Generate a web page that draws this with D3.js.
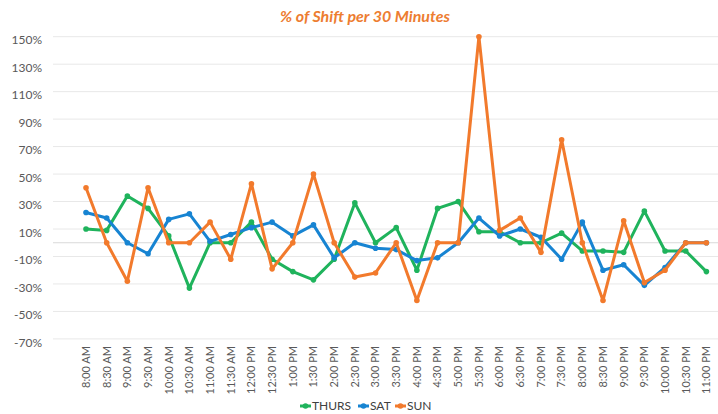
<!DOCTYPE html>
<html>
<head>
<meta charset="utf-8">
<script src="https://cdn.jsdelivr.net/npm/d3@7/dist/d3.min.js"></script>
<style>
  body { margin: 0; background: #fff; }
  svg { display: block; }
</style>
</head>
<body>
<svg id="chart" width="718" height="414"></svg>
<script>
const categories = ["8:00 AM","8:30 AM","9:00 AM","9:30 AM","10:00 AM","10:30 AM","11:00 AM","11:30 AM",
  "12:00 PM","12:30 PM","1:00 PM","1:30 PM","2:00 PM","2:30 PM","3:00 PM","3:30 PM","4:00 PM","4:30 PM",
  "5:00 PM","5:30 PM","6:00 PM","6:30 PM","7:00 PM","7:30 PM","8:00 PM","8:30 PM","9:00 PM","9:30 PM",
  "10:00 PM","10:30 PM","11:00 PM"];
const thurs = [10, 9, 34, 25, 5, -33, 0, 0, 15, -12, -21, -27, -12, 29, 0, 11, -20, 25, 30, 8, 8, 0, 0, 7, -6, -6, -7, 23, -6, -6, -21];
const sat   = [22, 18, 0, -8, 17, 21, 1, 6, 11, 15, 5, 13, -11, 0, -4, -5, -13, -11, 0, 18, 5, 10, 4, -12, 15, -20, -16, -31, -18, 0, 0];
const sun   = [40, 0, -28, 40, 0, 0, 15, -12, 43, -19, 0, 50, 0, -25, -22, 0, -42, 0, 0, 150, 9, 18, -7, 75, 0, -42, 16, -29, -20, 0, 0];
const yTicks = [150, 130, 110, 90, 70, 50, 30, 10, -10, -30, -50, -70];
const seriesNames = ["THURS", "SAT", "SUN"];
const seriesColors = ["#1fb35c", "#1784d2", "#f27a2c"];
const title = "% of Shift per 30 Minutes";

const svg = d3.select("#chart");
const gridLeft = 53, gridRight = 718;
const x = d3.scalePoint().domain(categories).range([86, 706.4]);
const y = d3.scaleLinear().domain([-70, 150]).range([338.9, 36.7]);

// gridlines
svg.append("g").selectAll("line").data(yTicks).join("line")
  .attr("x1", gridLeft).attr("x2", gridRight)
  .attr("y1", d => y(d)).attr("y2", d => y(d))
  .attr("stroke", "#e8e8e8").attr("stroke-width", 1);
// zero axis line
svg.append("line").attr("x1", gridLeft).attr("x2", gridRight)
  .attr("y1", y(0)).attr("y2", y(0)).attr("stroke", "#d9d9d9").attr("stroke-width", 1);

// y labels
svg.append("g").selectAll("text").data(yTicks).join("text")
  .attr("x", 42).attr("y", d => y(d) + 3.5).attr("dy", "0.35em")
  .attr("text-anchor", "end")
  .attr("font-family", "Lato, sans-serif").attr("font-size", 12).attr("fill", "#595959")
  .text(d => d + "%");

// x labels
svg.append("g").selectAll("text").data(categories).join("text")
  .attr("transform", d => `translate(${x(d)},346) rotate(-90)`)
  .attr("text-anchor", "end").attr("dy", "0.35em")
  .attr("font-family", "Lato, sans-serif").attr("font-size", 11).attr("fill", "#595959")
  .text(d => d);

// series
const allSeries = [thurs, sat, sun];
const line = d3.line().x((d, i) => x(categories[i])).y(d => y(d));
allSeries.forEach((vals, si) => {
  const g = svg.append("g");
  g.append("path").datum(vals).attr("d", line)
    .attr("fill", "none").attr("stroke", seriesColors[si]).attr("stroke-width", 3)
    .attr("stroke-linejoin", "round");
  g.selectAll("circle").data(vals).join("circle")
    .attr("cx", (d, i) => x(categories[i])).attr("cy", d => y(d)).attr("r", 2.8)
    .attr("fill", seriesColors[si]);
});

// title
svg.append("text").attr("x", 365).attr("y", 22).attr("text-anchor", "middle")
  .attr("font-family", "Lato, sans-serif").attr("font-weight", "bold").attr("font-style", "italic")
  .attr("font-size", 16).attr("fill", "#ed7d31").text(title);

// legend
const legendX = [300, 358, 395];
const lg = svg.append("g");
seriesNames.forEach((n, i) => {
  const lx = legendX[i];
  lg.append("line").attr("x1", lx).attr("x2", lx + 11).attr("y1", 406).attr("y2", 406)
    .attr("stroke", seriesColors[i]).attr("stroke-width", 3);
  lg.append("circle").attr("cx", lx + 5.5).attr("cy", 406).attr("r", 2.8).attr("fill", seriesColors[i]);
  lg.append("text").attr("x", lx + 12).attr("y", 406).attr("dy", "0.35em")
    .attr("font-family", "Lato, sans-serif").attr("font-size", 12).attr("fill", "#404040").text(n);
});
</script>
</body>
</html>
